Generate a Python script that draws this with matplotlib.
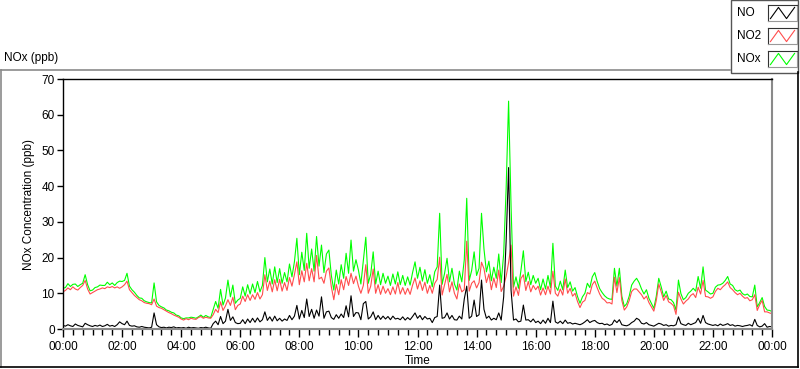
import numpy as np
import matplotlib
matplotlib.use("Agg")
import matplotlib.pyplot as plt
from matplotlib.lines import Line2D
from matplotlib.patches import Rectangle

plt.rcParams['font.family'] = ['Liberation Sans', 'DejaVu Sans']

# sample times in minutes after midnight (5-minute readings)
minutes = np.arange(0, 1441, 5)

tick_minutes = list(range(0, 1441, 120))
tick_labels = ["00:00", "02:00", "04:00", "06:00", "08:00", "10:00", "12:00",
               "14:00", "16:00", "18:00", "20:00", "22:00", "00:00"]
y_ticks = [0, 10, 20, 30, 40, 50, 60, 70]

no = [
    # 00:00-01:55
    1.0, 0.8, 1.2, 0.9, 0.7, 1.4, 1.0, 0.8, 0.6, 1.6, 1.2, 0.9,
    0.7, 1.0, 0.8, 1.1, 0.7, 0.9, 1.3, 0.8, 1.0, 0.7, 1.2, 2.0,
    # 02:00-03:55
    1.5, 1.2, 2.2, 1.0, 0.8, 0.9, 0.6, 0.5, 0.7, 0.5, 0.4, 0.3,
    0.5, 4.5, 1.2, 0.6, 0.4, 0.5, 0.3, 0.5, 0.4, 0.6, 0.3, 0.4,
    # 04:00-05:55
    0.3, 0.4, 0.2, 0.5, 0.3, 0.4, 0.3, 0.2, 0.4, 0.3, 0.5, 0.3,
    0.2, 1.5, 2.2, 1.2, 3.5, 1.5, 2.2, 5.5, 2.4, 3.4, 1.8, 1.5,
    # 06:00-07:55
    1.6, 2.6, 1.5, 2.8, 1.8, 3.0, 1.9, 3.1, 2.0, 2.6, 4.8, 2.4,
    3.4, 2.2, 3.6, 2.3, 3.0, 2.2, 2.8, 2.4, 3.8, 2.6, 3.6, 6.6,
    # 08:00-09:55
    2.8, 5.2, 3.2, 8.4, 3.5, 5.5, 3.0, 5.3, 3.6, 9.0, 3.0, 4.8,
    5.0, 3.2, 2.7, 4.0, 3.0, 4.2, 3.2, 6.5, 3.4, 9.3, 3.5, 4.6,
    # 10:00-11:55
    4.5, 2.6, 7.1, 7.7, 2.8, 3.4, 4.8, 2.6, 3.8, 2.7, 3.6, 2.8,
    3.5, 2.6, 3.6, 2.8, 3.0, 2.6, 3.4, 2.5, 3.2, 2.6, 3.5, 4.5,
    # 12:00-13:55
    3.0, 3.8, 2.6, 3.5, 2.8, 3.0, 1.8, 3.2, 3.5, 12.3, 3.0, 3.2,
    4.5, 2.8, 3.8, 2.6, 2.5, 3.6, 2.8, 8.4, 12.0, 3.0, 3.6, 8.1,
    # 14:00-15:55
    3.5, 4.0, 13.7, 5.5, 3.0, 3.6, 2.5, 3.0, 2.6, 4.5, 2.5, 9.0,
    24.5, 45.2, 10.9, 2.5, 2.8, 2.0, 2.2, 6.7, 2.5, 2.6, 2.0, 2.8,
    # 16:00-17:55
    1.8, 2.2, 1.5, 2.5, 1.6, 3.0, 1.8, 7.8, 2.0, 1.6, 2.2, 1.5,
    2.5, 1.6, 1.8, 1.4, 1.6, 1.4, 1.2, 1.5, 2.0, 2.6, 1.8, 2.2,
    # 18:00-19:55
    2.4, 1.8, 1.5, 1.6, 1.2, 1.4, 1.0, 1.3, 2.5, 1.8, 2.6, 1.2,
    1.0, 0.9, 1.2, 1.8, 2.2, 3.0, 2.6, 1.6, 1.4, 1.8, 1.2, 1.0,
    # 20:00-21:55
    0.8, 1.2, 1.6, 1.4, 1.0, 1.2, 0.8, 1.0, 0.9, 1.2, 3.4, 1.5,
    1.2, 1.0, 1.6, 1.2, 1.5, 1.8, 3.0, 1.6, 3.8, 1.8, 1.4, 1.2,
    # 22:00-24:00
    1.0, 1.2, 0.9, 1.4, 1.0, 1.2, 1.5, 1.0, 1.2, 0.8, 1.0, 0.9,
    0.7, 0.9, 1.0, 1.2, 0.8, 2.7, 1.0, 0.6, 0.8, 1.5, 0.5, 0.7,
    0.6,
]

no2 = [
    10.4, 10.8, 11.5, 11.0, 11.8, 11.2, 10.9, 11.6, 12.2, 13.6, 11.2, 9.8,
    10.2, 10.6, 11.0, 11.2, 11.5, 11.3, 11.8, 11.6, 11.9, 11.5, 11.8, 11.4,
    11.8, 12.4, 13.4, 11.0, 10.2, 9.4, 8.8, 8.2, 7.9, 7.4, 7.2, 7.1,
    6.8, 8.4, 6.4, 6.0, 5.8, 5.4, 5.0, 4.6, 4.3, 3.9, 3.6, 3.3,
    2.8, 2.5, 2.9, 2.6, 3.0, 2.8, 2.7, 3.2, 3.5, 3.0, 3.3, 3.1,
    3.0, 4.0, 5.5, 4.6, 7.6, 5.2, 6.5, 8.2, 6.6, 8.9, 5.4, 6.6,
    7.0, 9.2, 7.7, 9.6, 8.0, 9.6, 8.3, 10.2, 8.4, 9.6, 15.2, 10.8,
    13.4, 10.4, 13.8, 10.7, 13.9, 10.6, 13.0, 10.8, 14.4, 12.0, 15.2, 18.8,
    12.4, 16.3, 13.2, 18.4, 13.5, 16.9, 13.2, 20.6, 14.0, 14.5, 12.8, 16.2,
    17.1, 11.8, 8.2, 12.5, 9.6, 13.8, 11.0, 14.7, 12.2, 15.6, 12.7, 14.8,
    12.0, 10.0, 12.2, 18.0, 10.0, 12.0, 16.8, 10.0, 12.4, 9.7, 12.0, 10.0,
    11.3, 9.6, 11.8, 9.8, 13.0, 9.8, 11.6, 9.7, 11.4, 9.7, 12.3, 14.3,
    11.2, 13.5, 10.8, 13.1, 10.0, 12.2, 10.0, 12.8, 13.9, 20.1, 9.5, 12.4,
    15.3, 10.4, 13.2, 10.0, 8.4, 12.6, 10.4, 11.0, 24.6, 10.6, 12.8, 13.5,
    11.5, 13.0, 18.7, 16.9, 13.0, 15.4, 11.0, 14.3, 11.6, 16.5, 10.5, 12.0,
    14.7, 18.6, 23.5, 9.2, 11.8, 9.4, 14.1, 15.2, 10.8, 13.3, 10.4, 12.2,
    11.0, 12.0, 9.5, 11.5, 9.6, 12.0, 9.8, 16.2, 10.0, 9.2, 11.2, 9.5,
    14.0, 10.0, 11.4, 9.2, 10.0, 7.7, 6.0, 7.5, 8.0, 10.2, 9.8, 12.4,
    13.4, 11.5, 9.8, 8.6, 8.1, 7.3, 7.4, 7.0, 14.5, 10.2, 14.4, 8.0,
    5.3, 6.2, 8.0, 10.5, 11.2, 11.2, 10.4, 9.6, 8.4, 9.2, 7.4, 6.2,
    5.0, 8.0, 12.6, 10.4, 8.0, 9.4, 7.6, 7.2, 6.5, 4.1, 10.3, 8.4,
    7.0, 7.8, 8.4, 9.4, 9.9, 8.8, 11.7, 9.8, 13.6, 9.1, 9.0, 8.6,
    9.0, 10.5, 11.4, 11.0, 11.8, 12.4, 13.2, 11.6, 11.0, 10.2, 9.6, 10.0,
    9.2, 8.6, 8.8, 7.9, 8.2, 9.6, 5.2, 6.8, 8.0, 4.8, 4.8, 4.5,
    4.3,
]

nox = [
    11.4, 11.6, 12.7, 11.9, 12.5, 12.6, 11.9, 12.4, 12.8, 15.2, 12.4, 10.7,
    10.9, 11.6, 11.8, 12.3, 12.2, 12.2, 13.1, 12.4, 12.9, 12.2, 13.0, 13.4,
    13.3, 13.6, 15.6, 12.0, 11.0, 10.3, 9.4, 8.7, 8.6, 7.9, 7.6, 7.4,
    7.3, 12.9, 7.6, 6.6, 6.2, 5.9, 5.3, 5.1, 4.7, 4.5, 3.9, 3.7,
    3.1, 2.9, 3.1, 3.1, 3.3, 3.2, 3.0, 3.4, 3.9, 3.3, 3.8, 3.4,
    3.2, 5.5, 7.7, 5.8, 11.1, 6.7, 8.7, 13.7, 9.0, 12.3, 7.2, 8.1,
    8.6, 11.8, 9.2, 12.4, 9.8, 12.6, 10.2, 13.3, 10.4, 12.2, 20.0, 13.2,
    16.8, 12.6, 17.4, 13.0, 16.9, 12.8, 15.8, 13.2, 18.2, 14.6, 18.8, 25.4,
    15.2, 21.5, 16.4, 26.8, 17.0, 22.4, 16.2, 25.9, 17.6, 23.5, 15.8, 21.0,
    22.1, 15.0, 10.9, 16.5, 12.6, 18.0, 14.2, 21.2, 15.6, 24.9, 16.2, 19.4,
    16.5, 12.6, 19.3, 25.7, 12.8, 15.4, 21.6, 12.6, 16.2, 12.4, 15.6, 12.8,
    14.8, 12.2, 15.4, 12.6, 16.0, 12.4, 15.0, 12.2, 14.6, 12.3, 15.8, 18.8,
    14.2, 17.3, 13.4, 16.6, 12.8, 15.2, 11.8, 16.0, 17.4, 32.4, 12.5, 15.6,
    19.8, 13.2, 17.0, 12.6, 10.9, 16.2, 13.2, 19.4, 36.6, 13.6, 16.4, 21.6,
    15.0, 17.0, 32.4, 22.4, 16.0, 19.0, 13.5, 17.3, 14.2, 21.0, 13.0, 21.0,
    39.2, 63.8, 34.4, 11.7, 14.6, 11.4, 16.3, 21.9, 13.3, 15.9, 12.4, 15.0,
    12.8, 14.2, 11.0, 14.0, 11.2, 15.0, 11.6, 24.0, 12.0, 10.8, 13.4, 11.0,
    16.5, 11.6, 13.2, 10.6, 11.6, 9.1, 7.2, 9.0, 10.0, 12.8, 11.6, 14.6,
    15.8, 13.3, 11.3, 10.2, 9.3, 8.7, 8.4, 8.3, 17.0, 12.0, 17.0, 9.2,
    6.3, 7.1, 9.2, 12.3, 13.4, 14.2, 13.0, 11.2, 9.8, 11.0, 8.6, 7.2,
    5.8, 9.2, 14.2, 11.8, 9.0, 10.6, 8.4, 8.2, 7.4, 5.3, 13.7, 9.9,
    8.2, 8.8, 10.0, 10.6, 11.4, 10.6, 14.7, 11.4, 17.4, 10.9, 10.4, 9.8,
    10.0, 11.7, 12.3, 12.4, 12.8, 13.6, 14.7, 12.6, 12.2, 11.0, 10.6, 10.9,
    9.9, 9.5, 9.8, 9.1, 9.0, 12.3, 6.2, 7.4, 8.8, 6.3, 5.3, 5.2,
    4.9,
]

assert len(no) == len(minutes), len(no)
assert len(no2) == len(minutes), len(no2)
assert len(nox) == len(minutes), len(nox)

W, H = 800, 369


def fx(x):
    return x / W


def fy(y):
    return 1 - y / H


fig = plt.figure(figsize=(W / 100, H / 100), dpi=100)
fig.patch.set_facecolor('white')

ax = fig.add_axes([fx(63), fy(329), (772 - 63) / W, (329 - 79) / H])
ax.plot(minutes, nox, color='#00ff00', lw=0.8)
ax.plot(minutes, no2, color='#ff4d4d', lw=0.8)
ax.plot(minutes, no, color='black', lw=0.8)

ax.set_xlim(0, 1440)
ax.set_ylim(0, 70)
ax.set_yticks(y_ticks)
ax.set_yticklabels([str(v) for v in y_ticks], fontsize=8.5)
ax.set_xticks(tick_minutes)
ax.set_xticklabels(tick_labels, fontsize=8.5)
ax.set_xticks(list(range(0, 1441, 20)), minor=True)
ax.tick_params(axis='x', which='major', length=6, width=1, pad=3)
ax.tick_params(axis='x', which='minor', length=4, width=1)
ax.tick_params(axis='y', which='major', length=4, width=1, pad=2)

for side in ('top', 'left'):
    ax.spines[side].set_color('black')
    ax.spines[side].set_linewidth(1.0)
for side in ('bottom', 'right'):
    ax.spines[side].set_color('#8a8a8a')
    ax.spines[side].set_linewidth(1.5)

ax.set_xlabel('Time', fontsize=8.5)
ax.xaxis.set_label_coords(0.5, -0.105)
ax.set_ylabel('NOx Concentration (ppb)', fontsize=8.5)
ax.yaxis.set_label_coords(-0.04, 0.5)

# panel title
fig.text(fx(4), fy(58), 'NOx (ppb)', fontsize=8.5, ha='left', va='center')

# panel frame
fig.add_artist(Line2D([fx(0.5), fx(730)], [fy(69.5), fy(69.5)], color='#8a8a8a', lw=1.2))
fig.add_artist(Line2D([fx(0.8), fx(0.8)], [fy(69.5), fy(367)], color='#8a8a8a', lw=1.2))
fig.add_artist(Line2D([fx(0), fx(798)], [fy(367), fy(367)], color='black', lw=1.2))
fig.add_artist(Line2D([fx(797.5), fx(797.5)], [fy(72), fy(367)], color='black', lw=1.2))

# legend box (drawn beneath the swatch axes)
fig.add_artist(Rectangle((fx(730.5), fy(72.5)), (797.5 - 730.5) / W, 72.5 / H,
                         transform=fig.transFigure, facecolor='white',
                         edgecolor='#555555', lw=1.0, zorder=-1))
legend_names = ['NO', 'NO2', 'NOx']
legend_colors = ['black', '#ff4d4d', '#00ff00']
legend_rows = [13, 36, 59]
for name, col, yc in zip(legend_names, legend_colors, legend_rows):
    fig.text(fx(737), fy(yc), name, fontsize=8.5, ha='left', va='center')
    sw = fig.add_axes([fx(768), fy(yc + 8), 29 / W, 16 / H])
    sw.set_zorder(2)
    sw.plot([0, 1, 2, 3], [0.15, 0.85, 0.15, 0.85], color=col, lw=0.8)
    sw.set_xlim(-0.3, 3.3)
    sw.set_ylim(0, 1)
    sw.set_xticks([])
    sw.set_yticks([])
    for side in ('top', 'left'):
        sw.spines[side].set_color('#333333')
    for side in ('bottom', 'right'):
        sw.spines[side].set_color('#999999')

fig.savefig('out.png', dpi=100, facecolor='white')
